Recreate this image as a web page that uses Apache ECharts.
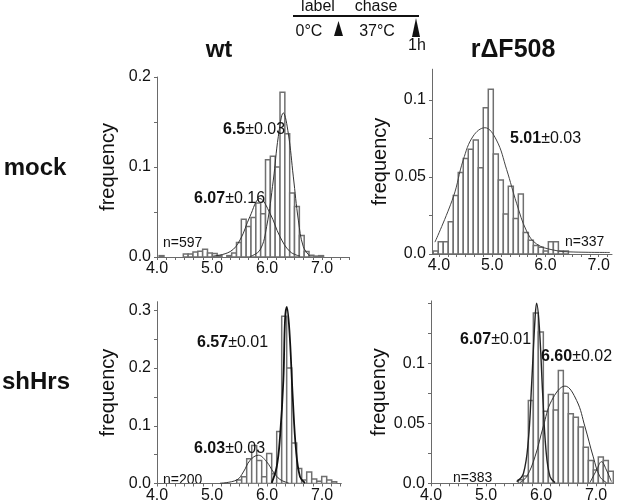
<!DOCTYPE html>
<html><head><meta charset="utf-8">
<script src="https://cdn.jsdelivr.net/npm/echarts@6/dist/echarts.min.js"></script>
<style>html,body{margin:0;padding:0;background:#fff}#c{width:619px;height:504px}</style>
</head><body><div id="c"></div>
<script>
const FONT = '"Liberation Sans", Arial, Helvetica, sans-serif';

// ---- panel: mock / wt ----
const mockWtBinStart = 4.039, mockWtBinWidth = 0.0879;
const mockWtFreq = [0.0015,0,0,0,0,0.0033,0.0033,0.0055,0.0065,0.0085,0.0045,0.004,0.0015,0,0.0015,0.0045,0.016,0.042,0.034,0.044,0.06,0.048,0.108,0.112,0.1,0.183,0.137,0.071,0.056,0.024,0.006,0.002,0.001,0.0015];
const mockWtFitA = [[5.02,0.001],[5.33,0.006],[5.51,0.019],[5.69,0.045],[5.87,0.065],[6.055,0.0485],[6.236,0.0226],[6.418,0.006],[6.6,0.001]];
const mockWtFitB = [[5.69,0.0005],[5.873,0.0078],[5.994,0.034],[6.115,0.0855],[6.206,0.134],[6.297,0.16],[6.388,0.137],[6.479,0.089],[6.57,0.041],[6.66,0.0115],[6.78,0.001]];

// ---- panel: mock / rΔF508 ----
const mockMutBinStart = 3.893, mockMutBinWidth = 0.094;
const mockMutFreq = [0.002,0.008,0.008,0.021,0.038,0.053,0.062,0.068,0.074,0.056,0.095,0.107,0.065,0.048,0.026,0.044,0.023,0.039,0.014,0.009,0.0055,0.0044,0.002,0.008,0.008,0.002,0.002];
const mockMutFit = [[3.925,0.0077],[4.27,0.037],[4.456,0.061],[4.644,0.0766],[4.863,0.082],[5.08,0.074],[5.27,0.055],[5.458,0.033],[5.645,0.015],[5.83,0.0066],[6.145,0.0026],[6.52,0.0013],[7.21,0.001]];

// ---- panel: shHrs / wt ----
const shWtBinStart = 5.4485, shWtBinWidth = 0.0909;
const shWtFreq = [0.006,0.0115,0.043,0.066,0.04,0.0115,0.052,0.017,0.09,0.29,0.2,0.07,0.026,0.006,0.02,0.008,0.004,0.012,0.006,0.003];
const shWtFitA = [[5.145,0.0005],[5.448,0.006],[5.57,0.02],[5.69,0.04],[5.842,0.049],[5.994,0.0375],[6.115,0.02],[6.236,0.007],[6.39,0.001]];
const shWtFitB = [[6.085,0.001],[6.176,0.029],[6.236,0.081],[6.297,0.179],[6.327,0.283],[6.358,0.306],[6.406,0.266],[6.467,0.15],[6.527,0.058],[6.6,0.0115],[6.69,0.001]];

// ---- panel: shHrs / rΔF508 ----
const shMutBinStart = 5.588, shMutBinWidth = 0.0909;
const shMutFreq = [0.003,0.006,0.069,0.142,0.126,0.06,0.074,0.061,0.094,0.075,0.058,0.055,0.047,0.03,0.019,0.011,0.022,0.019,0.01];
const shMutFitA = [[5.558,0.0014],[5.679,0.008],[5.77,0.036],[5.83,0.083],[5.89,0.136],[5.92,0.15],[5.97,0.13],[6.03,0.075],[6.09,0.028],[6.164,0.0056],[6.255,0.0006]];
const shMutFitB = [[5.618,0.0006],[5.74,0.0056],[5.89,0.022],[6.04,0.047],[6.194,0.069],[6.436,0.081],[6.648,0.069],[6.8,0.047],[6.95,0.022],[7.07,0.0056],[7.19,0.0006]];
const shMutFitC = [[6.89,0.0006],[7.01,0.011],[7.1,0.018],[7.19,0.011],[7.28,0.0014]];

// ---- tick labels ----
const xLabelValues = [4, 5, 6, 7];
const xTickValues = [4,4.1667,4.3333,4.5,4.6667,4.8333,5,5.1667,5.3333,5.5,5.6667,5.8333,6,6.1667,6.3333,6.5,6.6667,6.8333,7,7.1667,7.3333,7.5];
const yLabelsWt1 = {0:'0.0', 0.1:'0.1', 0.2:'0.2'};
const yTicksWt1 = [0,0.05,0.1,0.15,0.2];
const yLabelsMut1 = {0:'0.0', 0.05:'0.05', 0.1:'0.1'};
const yTicksMut1 = [0,0.025,0.05,0.075,0.1];
const yLabelsWt2 = {0:'0.0', 0.1:'0.1', 0.2:'0.2', 0.3:'0.3'};
const yTicksWt2 = [0,0.05,0.1,0.15,0.2,0.25,0.3];
const yLabelsMut2 = {0:'0.0', 0.05:'0.05', 0.1:'0.1'};
const yTicksMut2 = [0,0.025,0.05,0.075,0.1,0.125,0.15];

const AX = '#6a6a6a';
const grids = [
  {left:157, top:77, width:192.5, height:180},
  {left:432, top:69.2, width:180, height:184.8},
  {left:157, top:301.7, width:184.3, height:181.8},
  {left:431, top:300.9, width:182.6, height:182.4}
];
const xRanges = [[4,7.5],[3.87,7.25],[4,7.35],[4,7.32]];
const yRanges = [0.2, 0.12, 0.315, 0.152];
const yLabelMaps = [yLabelsWt1, yLabelsMut1, yLabelsWt2, yLabelsMut2];
const yTickSets = [yTicksWt1, yTicksMut1, yTicksWt2, yTicksMut2];
const nameGaps = [39, 39, 39, 39];

function xAxis(i){
  return {type:'value', gridIndex:i, min:xRanges[i][0], max:xRanges[i][1],
    splitLine:{show:false},
    axisLine:{show:true, onZero:false, lineStyle:{color:AX, width:1}},
    axisTick:{show:true, customValues:xTickValues.filter(v=>v>=xRanges[i][0]&&v<=xRanges[i][1]), length:3, lineStyle:{color:AX}},
    axisLabel:{customValues:xLabelValues, formatter:v=>v.toFixed(1), fontSize:16, color:'#111', fontFamily:FONT, margin:4}
  };
}
function yAxis(i){
  const m = yLabelMaps[i];
  const vals = Object.keys(m).map(Number);
  return {type:'value', gridIndex:i, min:0, max:yRanges[i],
    splitLine:{show:false},
    axisLine:{show:true, onZero:false, lineStyle:{color:AX, width:1}},
    axisTick:{show:true, customValues:yTickSets[i], length:3, lineStyle:{color:AX}},
    axisLabel:{customValues:vals, formatter:v=>{for(const k in m){ if(Math.abs(Number(k)-v)<1e-6) return m[k]; } return '';}, fontSize:16, color:'#111', fontFamily:FONT, margin:6},
    name:'frequency', nameLocation:'middle', nameGap:nameGaps[i], nameRotate:90,
    nameTextStyle:{fontSize:20, color:'#111', fontFamily:FONT}
  };
}
function hist(i, start, width, freq){
  const data = freq.map((f,k)=>[start + k*width, start + (k+1)*width, f]);
  return {type:'custom', xAxisIndex:i, yAxisIndex:i, clip:true, silent:true,
    encode:{x:[0,1], y:2}, data,
    renderItem:(params, api)=>{
      const f = api.value(2);
      if (!(f > 0)) return null;
      const p0 = api.coord([api.value(0), f]);
      const p1 = api.coord([api.value(1), 0]);
      return {type:'rect', shape:{x:p0[0], y:p0[1], width:p1[0]-p0[0], height:p1[1]-p0[1]},
        style:{fill:'#fff', stroke:'#707070', lineWidth:1.5}};
    }};
}
function fit(i, pts, w, c){
  return {type:'line', xAxisIndex:i, yAxisIndex:i, data:pts, smooth:0.4, showSymbol:false, silent:true,
    clip:true, lineStyle:{color:c||'#333', width:w||1}, z:5};
}
function ann(x, y, bold, rest, size){
  return {type:'text', x, y, z:10, style:{text:'{b|'+bold+'}'+rest, fontSize:size||16, fontFamily:FONT, fill:'#111',
    verticalAlign:'middle', rich:{b:{fontWeight:'bold', fontSize:size||16, fontFamily:FONT, fill:'#111'}}}};
}
function txt(x, y, s, size, bold, align){
  return {type:'text', x, y, style:{text:s, fontSize:size, fontWeight:bold?'bold':'normal', fontFamily:FONT, fill:'#111',
    align:align||'center', verticalAlign:'middle'}};
}

const chart = echarts.init(document.getElementById('c'), null, {renderer:'canvas'});
chart.setOption({
  animation:false,
  backgroundColor:'#fff',
  grid: grids.map(g=>Object.assign({containLabel:false}, g)),
  xAxis: [0,1,2,3].map(xAxis),
  yAxis: [0,1,2,3].map(yAxis),
  series: [
    hist(0, mockWtBinStart, mockWtBinWidth, mockWtFreq),
    fit(0, mockWtFitA), fit(0, mockWtFitB),
    hist(1, mockMutBinStart, mockMutBinWidth, mockMutFreq),
    fit(1, mockMutFit, 1, '#444'),
    hist(2, shWtBinStart, shWtBinWidth, shWtFreq),
    fit(2, shWtFitA), fit(2, shWtFitB, 1.8, '#111'),
    hist(3, shMutBinStart, shMutBinWidth, shMutFreq),
    fit(3, shMutFitA, 1.4, '#222'), fit(3, shMutFitB), fit(3, shMutFitC)
  ],
  graphic: [
    // header schematic
    {type:'line', shape:{x1:293, y1:16, x2:419, y2:16}, style:{stroke:'#111', lineWidth:2}},
    txt(318, 7, 'label', 16), txt(376, 7, 'chase', 16),
    txt(309, 32, '0°C', 16), txt(377, 32, '37°C', 16),
    {type:'polygon', shape:{points:[[338.5,21],[334,36],[343,36]]}, style:{fill:'#111'}},
    {type:'polygon', shape:{points:[[416,18],[412,37],[420,37]]}, style:{fill:'#111'}},
    txt(417, 46, '1h', 16),
    // column / row titles
    txt(219, 50, 'wt', 24, true), txt(513, 50, 'rΔF508', 25, true),
    txt(35, 168, 'mock', 24, true), txt(36, 382, 'shHrs', 24, true),
    // annotations
    ann(223, 130, '6.5', '±0.03'), ann(194, 199, '6.07', '±0.16'),
    {type:'text', x:163, y:243, style:{text:'n=597', fontSize:14, fontFamily:FONT, fill:'#111', verticalAlign:'middle'}},
    ann(510, 139, '5.01', '±0.03'),
    {type:'text', x:565, y:242, style:{text:'n=337', fontSize:14, fontFamily:FONT, fill:'#111', verticalAlign:'middle'}},
    ann(197, 343, '6.57', '±0.01'), ann(194, 449, '6.03', '±0.03'),
    {type:'text', x:163, y:480, style:{text:'n=200', fontSize:14, fontFamily:FONT, fill:'#111', verticalAlign:'middle'}},
    ann(460, 340, '6.07', '±0.01'), ann(541, 357, '6.60', '±0.02'),
    {type:'text', x:453, y:478, style:{text:'n=383', fontSize:14, fontFamily:FONT, fill:'#111', verticalAlign:'middle'}}
  ]
});
</script></body></html>
